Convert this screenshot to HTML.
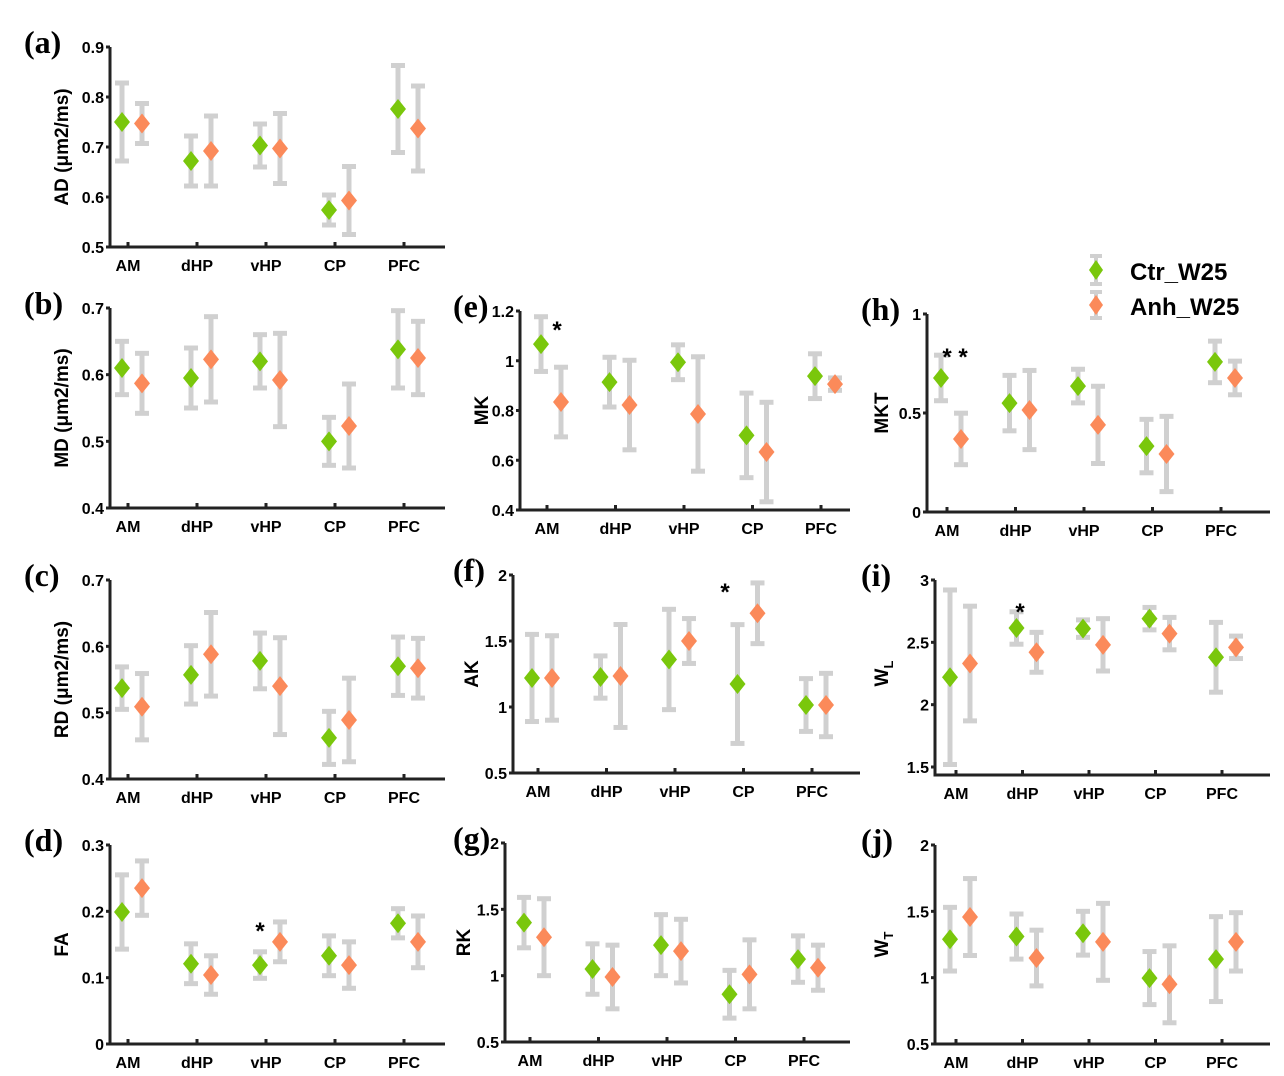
<!DOCTYPE html>
<html><head><meta charset="utf-8"><style>
body{margin:0;background:#fff}
svg{display:block;font-family:"Liberation Sans",Arial,sans-serif;font-weight:bold}
</style></head><body>
<svg id="fig" width="1284" height="1076" viewBox="0 0 1284 1076" xmlns="http://www.w3.org/2000/svg">
<g id="legend">
 <line x1="1096" y1="256" x2="1096" y2="284" stroke="#d0d0d0" stroke-width="4"/>
 <line x1="1090" y1="256" x2="1102" y2="256" stroke="#d0d0d0" stroke-width="4"/>
 <line x1="1090" y1="284" x2="1102" y2="284" stroke="#d0d0d0" stroke-width="4"/>
 <path d="M1096 260 L1103 270 L1096 280 L1089 270 Z" fill="#7ac70c"/>
 <text x="1130" y="280" font-size="24">Ctr_W25</text>
 <line x1="1096" y1="292" x2="1096" y2="318" stroke="#d0d0d0" stroke-width="4"/>
 <line x1="1090" y1="292" x2="1102" y2="292" stroke="#d0d0d0" stroke-width="4"/>
 <line x1="1090" y1="318" x2="1102" y2="318" stroke="#d0d0d0" stroke-width="4"/>
 <path d="M1096 295 L1103 305 L1096 315 L1089 305 Z" fill="#fb8a5a"/>
 <text x="1130" y="315" font-size="24">Anh_W25</text>
</g>
</svg>
<script>
const categories=["AM","dHP","vHP","CP","PFC"];
const ctrA=[0.750,0.672,0.703,0.574,0.776], ctrAErr=[0.078,0.050,0.043,0.030,0.087];
const anhA=[0.747,0.692,0.697,0.593,0.737], anhAErr=[0.040,0.070,0.070,0.068,0.085];
const ctrB=[0.610,0.595,0.620,0.500,0.638], ctrBErr=[0.040,0.045,0.040,0.036,0.058];
const anhB=[0.587,0.623,0.592,0.523,0.625], anhBErr=[0.045,0.064,0.070,0.063,0.055];
const ctrC=[0.537,0.557,0.578,0.462,0.570], ctrCErr=[0.032,0.044,0.042,0.040,0.044];
const anhC=[0.509,0.588,0.540,0.489,0.567], anhCErr=[0.050,0.063,0.073,0.063,0.045];
const ctrD=[0.199,0.121,0.119,0.133,0.182], ctrDErr=[0.056,0.030,0.020,0.030,0.022];
const anhD=[0.235,0.104,0.154,0.119,0.154], anhDErr=[0.041,0.029,0.030,0.035,0.039];
const ctrE=[1.067,0.914,0.994,0.700,0.938], ctrEErr=[0.110,0.100,0.070,0.170,0.090];
const anhE=[0.834,0.822,0.786,0.633,0.906], anhEErr=[0.140,0.180,0.230,0.200,0.025];
const ctrF=[1.22,1.227,1.36,1.174,1.015], ctrFErr=[0.33,0.16,0.38,0.45,0.20];
const anhF=[1.22,1.235,1.50,1.71,1.015], anhFErr=[0.32,0.39,0.17,0.23,0.24];
const ctrG=[1.40,1.05,1.23,0.86,1.125], ctrGErr=[0.19,0.19,0.23,0.18,0.175];
const anhG=[1.29,0.99,1.185,1.01,1.06], anhGErr=[0.29,0.24,0.24,0.26,0.17];
const ctrH=[0.677,0.550,0.636,0.333,0.758], ctrHErr=[0.115,0.140,0.085,0.135,0.105];
const anhH=[0.369,0.515,0.440,0.293,0.677], anhHErr=[0.130,0.200,0.195,0.190,0.085];
const ctrI=[2.22,2.615,2.61,2.69,2.38], ctrIErr=[0.70,0.13,0.07,0.09,0.28];
const anhI=[2.33,2.42,2.48,2.57,2.46], anhIErr=[0.46,0.16,0.21,0.13,0.09];
const ctrJ=[1.29,1.31,1.335,0.997,1.14], ctrJErr=[0.24,0.17,0.165,0.20,0.32];
const anhJ=[1.457,1.148,1.27,0.95,1.27], anhJErr=[0.29,0.21,0.29,0.29,0.22];
const ticksA=["0.5","0.6","0.7","0.8","0.9"], ticksB=["0.4","0.5","0.6","0.7"], ticksC=["0.4","0.5","0.6","0.7"], ticksD=["0","0.1","0.2","0.3"];
const ticksE=["0.4","0.6","0.8","1","1.2"], ticksF=["0.5","1","1.5","2"], ticksG=["0.5","1","1.5","2"];
const ticksH=["0","0.5","1"], ticksI=["1.5","2","2.5","3"], ticksJ=["0.5","1","1.5","2"];

const panels=[
 {id:"a",ylab:"AD (μm2/ms)",lx:60,px:24,L:110,T:47,B:247,R:445,c0:128,st:69,min:.5,max:.9,ticks:ticksA,c:ctrA,ce:ctrAErr,o:anhA,oe:anhAErr},
 {id:"b",ylab:"MD (μm2/ms)",lx:60,px:24,L:110,T:308,B:508,R:445,c0:128,st:69,min:.4,max:.7,ticks:ticksB,c:ctrB,ce:ctrBErr,o:anhB,oe:anhBErr},
 {id:"c",ylab:"RD (μm2/ms)",lx:60,px:24,L:110,T:580,B:779,R:445,c0:128,st:69,min:.4,max:.7,ticks:ticksC,c:ctrC,ce:ctrCErr,o:anhC,oe:anhCErr},
 {id:"d",ylab:"FA",lx:60,px:24,L:110,T:845,B:1044,R:445,c0:128,st:69,min:0,max:.3,ticks:ticksD,c:ctrD,ce:ctrDErr,o:anhD,oe:anhDErr,star:[[260,927,"*"]]},
 {id:"e",ylab:"MK",lx:480,px:453,L:520,T:311,B:510,R:850,c0:547,st:68.5,min:.4,max:1.2,ticks:ticksE,c:ctrE,ce:ctrEErr,o:anhE,oe:anhEErr,star:[[557,326,"*"]]},
 {id:"f",ylab:"AK",lx:470,px:453,L:513,T:575,B:773,R:860,c0:538,st:68.5,min:.5,max:2,ticks:ticksF,c:ctrF,ce:ctrFErr,o:anhF,oe:anhFErr,star:[[725,588,"*"]]},
 {id:"g",ylab:"RK",lx:462,px:453,L:505,T:843,B:1042,R:850,c0:530,st:68.5,min:.5,max:2,ticks:ticksG,c:ctrG,ce:ctrGErr,o:anhG,oe:anhGErr},
 {id:"h",ylab:"MKT",lx:880,px:861,L:927,T:314,B:512,R:1270,c0:947,st:68.5,min:0,max:1,ticks:ticksH,c:ctrH,ce:ctrHErr,o:anhH,oe:anhHErr,star:[[955,353,"* *"]]},
 {id:"i",ylab:"W",sub:"L",lx:880,px:861,L:935,T:580,B:767,AB:775,R:1270,c0:956,st:66.5,min:1.5,max:3,ticks:ticksI,c:ctrI,ce:ctrIErr,o:anhI,oe:anhIErr,star:[[1020,608,"*"]]},
 {id:"j",ylab:"W",sub:"T",lx:880,px:861,L:935,T:845,B:1044,R:1270,c0:956,st:66.5,min:.5,max:2,ticks:ticksJ,c:ctrJ,ce:ctrJErr,o:anhJ,oe:anhJErr}
];
const NS="http://www.w3.org/2000/svg";
const fig=document.getElementById("fig");
function mk(tag,attrs,parent){const e=document.createElementNS(NS,tag);for(const k in attrs)e.setAttribute(k,attrs[k]);parent.appendChild(e);return e;}
panels.forEach(p=>{
 const g=mk("g",{},fig);
 
 
 const y=v=>p.B-(v-p.min)/(p.max-p.min)*(p.B-p.T);
 const x=i=>p.c0+i*p.st;
 const ab=p.AB||p.B;
 mk("line",{x1:p.L,y1:p.T,x2:p.L,y2:ab,stroke:"#222","stroke-width":3},g);
 mk("line",{x1:p.L-1.5,y1:ab,x2:p.R,y2:ab,stroke:"#222","stroke-width":3},g);
 p.ticks.forEach(t=>{const v=parseFloat(t),yy=y(v);
  mk("line",{x1:p.L-4,y1:yy,x2:p.L,y2:yy,stroke:"#222","stroke-width":3},g);
  const tx=mk("text",{x:p.L-6,y:yy+6,"font-size":16,"text-anchor":"end"},g);tx.textContent=t;
  
  
 });
 categories.forEach((c,i)=>{
  mk("line",{x1:x(i),y1:ab,x2:x(i),y2:ab-5,stroke:"#222","stroke-width":3},g);
  const tx=mk("text",{x:x(i),y:ab+24,"font-size":16,"text-anchor":"middle"},g);tx.textContent=c;
  
  
 });
 const cy=(p.T+p.B)/2;
 const yl=mk("text",{x:p.lx+8,y:cy,"font-size":19,"text-anchor":"middle",transform:`rotate(-90 ${p.lx+8} ${cy})`},g);
 yl.textContent=p.ylab;
 if(p.sub){const s=mk("tspan",{"font-size":13,dy:5},yl);s.textContent=p.sub;}
 
 
 const pl=mk("text",{x:p.px,y:p.T+6,"font-size":32,"font-family":"Liberation Serif, serif","font-weight":"bold"},g);
 pl.textContent="("+p.id+")";
 
 
 [[p.c,p.ce,-6,"#7ac70c","ctr"],[p.o,p.oe,14,"#fb8a5a","anh"]].forEach(([vals,errs,off,col,nm])=>{
  vals.forEach((v,i)=>{
   const xx=x(i)+off,y1=y(v+errs[i]),y2=y(v-errs[i]),ym=y(v);
   const eg=mk("g",{},g);
   
   
   mk("line",{x1:xx,y1:y1,x2:xx,y2:y2,stroke:"#d0d0d0","stroke-width":5},eg);
   mk("line",{x1:xx-7,y1:y1,x2:xx+7,y2:y1,stroke:"#d0d0d0","stroke-width":5},eg);
   mk("line",{x1:xx-7,y1:y2,x2:xx+7,y2:y2,stroke:"#d0d0d0","stroke-width":5},eg);
   const d=mk("path",{d:`M${xx} ${ym-10} L${xx+8} ${ym} L${xx} ${ym+10} L${xx-8} ${ym} Z`,fill:col},g);
   
   
  });
 });
 (p.star||[]).forEach(s=>{const t=mk("text",{x:s[0],y:s[1]+12,"font-size":24,"text-anchor":"middle"},g);t.textContent=s[2];
  
  });
});
</script>
</body></html>
